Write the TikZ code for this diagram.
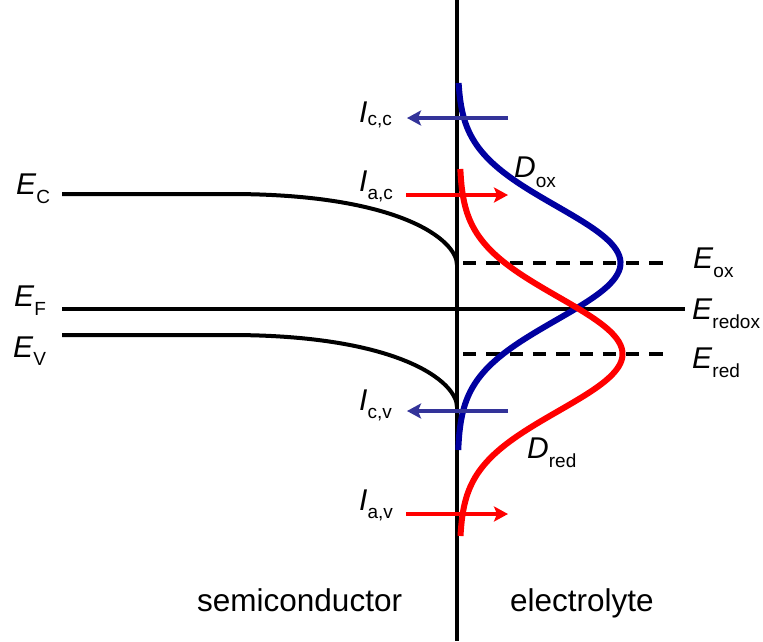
\documentclass[tikz,border=0pt]{standalone}
\usepackage{fontspec}
\setmainfont{Liberation Sans}
\usetikzlibrary{arrows.meta}
\definecolor{dblue}{RGB}{0,0,160}
\definecolor{ablue}{RGB}{51,51,153}
\definecolor{ared}{RGB}{255,0,0}
\newcommand{\mainfs}{\fontsize{30}{30}\selectfont}
\newcommand{\bigfs}{\fontsize{31.5}{31.5}\selectfont}
\newcommand{\subfs}{\fontsize{19}{19}\selectfont}
\newcommand{\sym}[3]{\mainfs\textit{#1}\raisebox{-#3pt}{\subfs #2}}
\begin{document}
\begin{tikzpicture}[x=1pt,y=-1pt,
  blk/.style={line width=4pt,black},
  curveb/.style={line width=6pt,dblue},
  curver/.style={line width=6pt,ared},
  arb/.style={line width=4pt,ablue,-{Stealth[length=14pt,width=15pt,inset=3pt]}},
  arr/.style={line width=4pt,ared,-{Stealth[length=14pt,width=15pt,inset=3pt]}},
  dsh/.style={line width=4pt,black,dash pattern=on 13.3pt off 10pt},
  lbl/.style={inner sep=0pt,anchor=base west}]
\useasboundingbox (0,0) rectangle (763,641);
% interface
\coordinate (itop) at (457,0);
\coordinate (ibot) at (457,641);
\draw[blk] (itop) -- (ibot);
% band edges
\coordinate (ecs) at (62,194);
\coordinate (ecb) at (230,194);
\coordinate (ece) at (457,265);
\draw[blk] (ecs) -- (ecb) .. controls (400,194) and (457,240) .. (ece);
\coordinate (evs) at (62,335);
\coordinate (evb) at (230,335);
\coordinate (eve) at (457,407);
\draw[blk] (evs) -- (evb) .. controls (400,335) and (457,382) .. (eve);
\coordinate (efs) at (62,309);
\coordinate (efe) at (685,309);
\draw[blk] (efs) -- (efe);
% dashed levels
\coordinate (oxs) at (463,263);
\coordinate (oxe) at (663,263);
\coordinate (rds) at (463,354);
\coordinate (rde) at (663,354);
\draw[dsh] (oxs) -- (oxe);
\draw[dsh] (rds) -- (rde);
% distributions
\draw[curveb,line cap=butt] plot[domain=83:450,samples=120,variable=\t,smooth]
  ({457.5+163*exp(-0.5*((\t-263)/57)^2)},\t);
\draw[curver,line cap=butt] plot[domain=169:536,samples=120,variable=\t,smooth]
  ({459.5+163*exp(-0.5*((\t-354)/57)^2)},\t);
% currents
\coordinate (ccs) at (508,118);
\coordinate (cce) at (407,118);
\draw[arb] (ccs) -- (cce);
\coordinate (acs) at (406,195);
\coordinate (ace) at (508,195);
\draw[arr] (acs) -- (ace);
\coordinate (cvs) at (508,411);
\coordinate (cve) at (407,411);
\draw[arb] (cvs) -- (cve);
\coordinate (avs) at (406,514);
\coordinate (ave) at (508,514);
\draw[arr] (avs) -- (ave);
% labels
\node[lbl] (lec) at (16,194) {\sym{E}{C}{9}};
\node[lbl] (lef) at (14,306) {\sym{E}{F}{9}};
\node[lbl] (lev) at (13,357) {\sym{E}{V}{8}};
\node[lbl] (leox) at (693,268) {\sym{E}{ox}{9}};
\node[lbl] (leredox) at (692,319) {\sym{E}{redox}{9}};
\node[lbl] (lered) at (692,368) {\sym{E}{red}{9}};
\node[lbl] (licc) at (359,122) {\sym{I}{c,c}{3}};
\node[lbl] (liac) at (359,191) {\sym{I}{a,c}{8}};
\node[lbl] (licv) at (359,410) {\sym{I}{c,v}{8}};
\node[lbl] (liav) at (359,510) {\sym{I}{a,v}{8}};
\node[lbl] (ldox) at (514,177) {\sym{D}{ox}{10}};
\node[lbl] (ldred) at (527,458) {\sym{D}{red}{9}};
\node[lbl] (lsemi) at (197,611) {\bigfs semiconductor};
\node[lbl] (lelec) at (510,611) {\bigfs electrolyte};
\end{tikzpicture}
\end{document}
